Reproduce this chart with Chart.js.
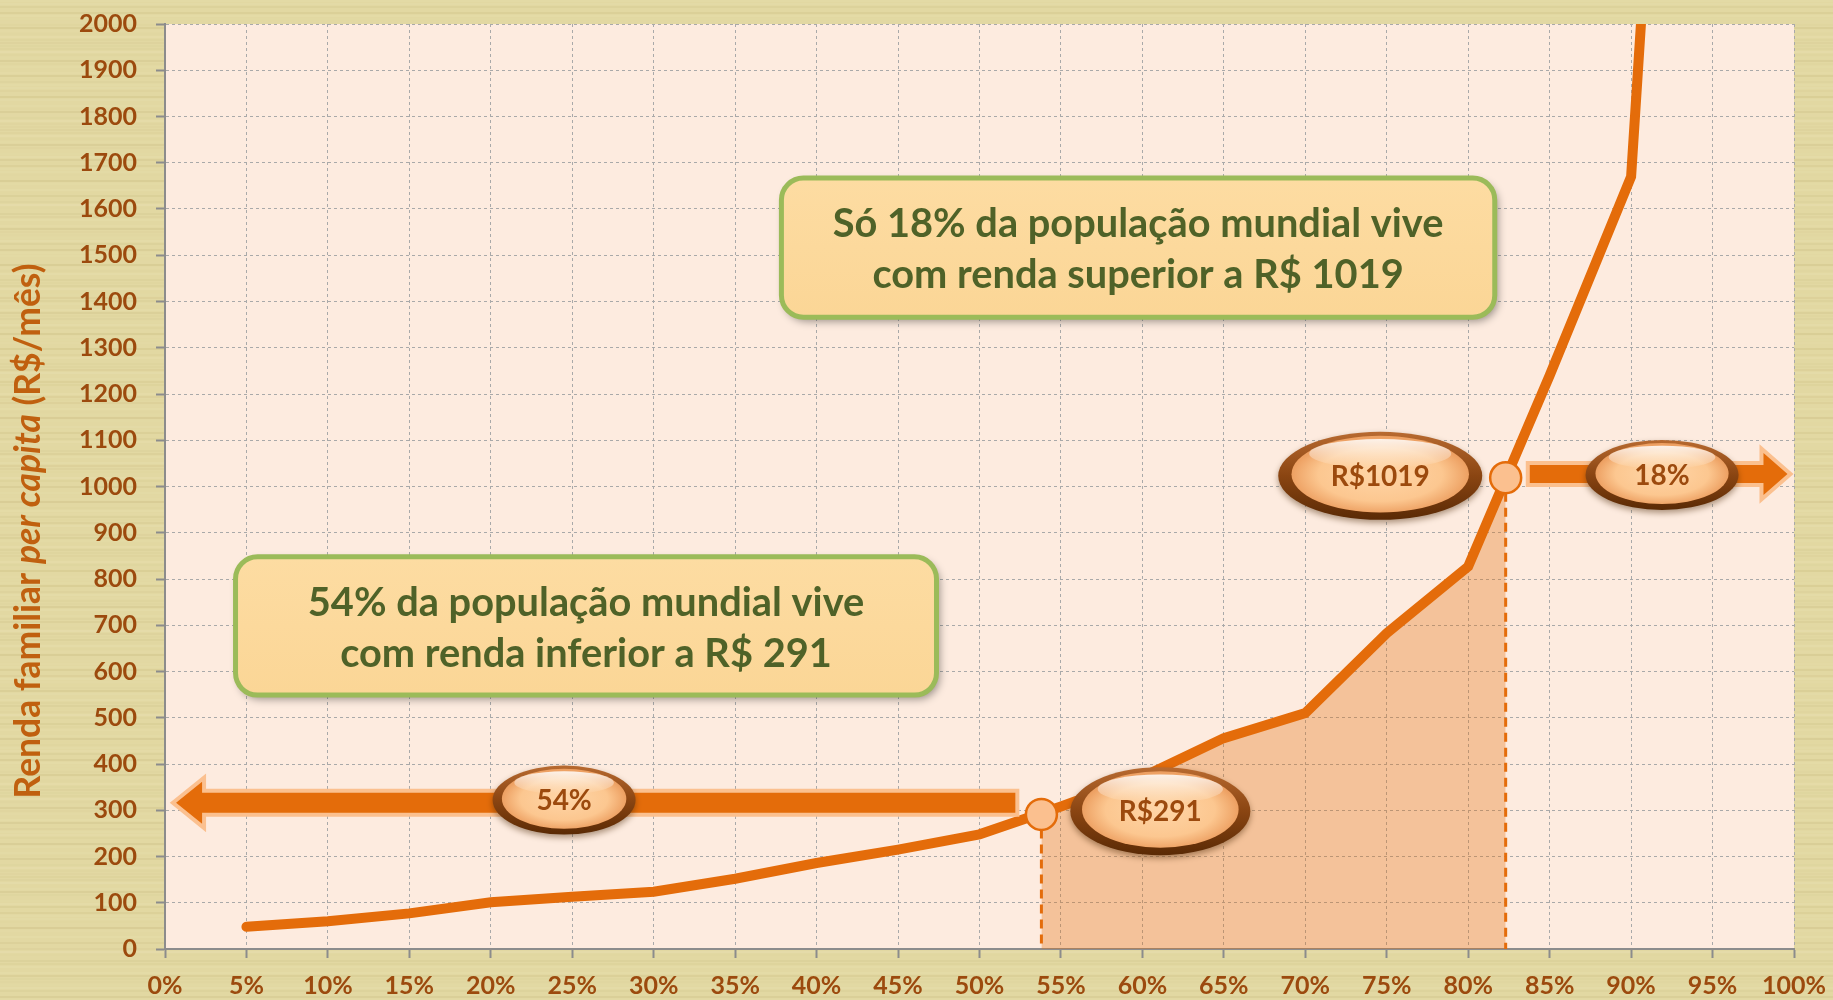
<!DOCTYPE html>
<html><head><meta charset="utf-8">
<script src="https://cdn.jsdelivr.net/npm/chart.js@4.4.0/dist/chart.umd.min.js"></script>
<style>html,body{margin:0;padding:0;background:#e4daa5;overflow:hidden}canvas{display:block}</style>
</head><body>
<canvas id="c" width="1833" height="1000"></canvas>
<script>
// ---------- DATA ----------
const percentiles = [5,10,15,20,25,30,35,40,45,50,55,60,65,70,75,80,85,90,95];
const income      = [48,60,77,101,113,124,152,186,215,248,308,372,456,510,683,827,1240,1670,4400];
const markerX = [53.8, 82.3];
const markerY = [291, 1019];
const ovalLabels = ['54%','R$291','R$1019','18%'];
const boxTexts = [
  ['Só 18% da população mundial vive','com renda superior a R$ 1019'],
  ['54% da população mundial vive','com renda inferior a R$ 291']
];
const yTitleParts = [['Renda familiar ','normal'],['per capita','italic'],[' (R$/mês)','normal']];

// ---------- ANNOTATION LAYOUT (data units + pixel sizes) ----------
const ovalLayout = [
  {x:24.5, y:322, w:143, h:69},
  {x:61.1, y:298, w:180, h:88},
  {x:74.6, y:1023, w:204, h:88},
  {x:91.9, y:1025, w:153, h:70}
];
const boxLayout = [
  {x1:37.84, x2:81.63, y1:1667, y2:1366},
  {x1:4.33, x2:47.36, y1:848, y2:549}
];
const arrowLayout = [
  {tip:0.68, end:52.2, y:316, dir:-1, head:26, headHalf:21, bodyHalf:10},
  {tip:99.6, end:83.78, y:1027, dir:1, head:24, headHalf:21, bodyHalf:9}
];

const C = {bg:'#e2d8a2', plot:'#fdebdf', line:'#e46c0a', tick:'#9c4a0e', title:'#c0600f',
           grid:'#a9a9a9', axis:'#8c8c8c', pale:'#fbc08f', boxFill:'#fcd99b', boxLine:'#9bbb59', boxText:'#4f6228'};
const FONT = 'Lato, "Open Sans", sans-serif';

const lineData = percentiles.map((p,i)=>({x:p, y:income[i]}));
const bandData = [{x:markerX[0], y:markerY[0]}]
  .concat(lineData.filter(d=>d.x>markerX[0] && d.x<markerX[1]))
  .concat([{x:markerX[1], y:markerY[1]}]);

function px(ch,v){return ch.scales.x.getPixelForValue(v);}
function py(ch,v){return ch.scales.y.getPixelForValue(v);}

const bgPlugin = {
  id:'bg',
  beforeDraw(ch){
    const {ctx, chartArea:a, width, height} = ch;
    ctx.save();
    ctx.fillStyle = C.bg; ctx.fillRect(0,0,width,height);
    for (let y=0; y<height; y+=3){
      const s = Math.sin(y*0.9)+Math.sin(y*0.37+1.3);
      ctx.fillStyle = s>0 ? 'rgba(255,250,220,'+(0.06*s)+')' : 'rgba(150,130,60,'+(-0.06*s)+')';
      ctx.fillRect(0,y,width,2);
    }
    ctx.fillStyle = C.plot; ctx.fillRect(a.left,a.top,a.right-a.left,a.bottom-a.top);
    ctx.restore();
  }
};

function gem(ctx,cx,cy,w,h,text){
  const rx=w/2, ry=h/2;
  ctx.save();
  ctx.shadowColor='rgba(70,35,0,0.45)'; ctx.shadowBlur=6; ctx.shadowOffsetY=3;
  let g = ctx.createLinearGradient(0,cy-ry,0,cy+ry);
  g.addColorStop(0,'#b86a30'); g.addColorStop(0.5,'#8a4512'); g.addColorStop(1,'#5a2a05');
  ctx.fillStyle=g;
  ctx.beginPath(); ctx.ellipse(cx,cy,rx,ry,0,0,Math.PI*2); ctx.fill();
  ctx.restore();
  ctx.save();
  ctx.translate(cx,cy); ctx.scale(1,ry/rx);
  const rim = Math.max(4,h*0.065)*rx/ry;
  const ir = rx - rim;
  const rg = ctx.createRadialGradient(0,-rx*0.1,0,0,0,ir);
  rg.addColorStop(0,'#ffd6a8'); rg.addColorStop(0.7,'#fcc790'); rg.addColorStop(1,'#eda062');
  ctx.fillStyle=rg;
  ctx.beginPath(); ctx.ellipse(0,-rim*0.3,ir,ir,0,0,Math.PI*2); ctx.fill();
  const hg = ctx.createLinearGradient(0,-ir,0,-ir*0.2);
  hg.addColorStop(0,'rgba(255,255,255,0.9)'); hg.addColorStop(1,'rgba(255,255,255,0)');
  ctx.fillStyle=hg;
  ctx.beginPath(); ctx.ellipse(0,-ir*0.58,ir*0.8,ir*0.38,0,0,Math.PI*2); ctx.fill();
  ctx.restore();
  ctx.save();
  ctx.fillStyle=C.tick; ctx.font='bold 28px '+FONT; ctx.textAlign='center'; ctx.textBaseline='middle';
  ctx.fillText(text,cx,cy+1);
  ctx.restore();
}

function arrow(ctx, ch, a){
  const y = py(ch,a.y), xt = px(ch,a.tip), xe = px(ch,a.end);
  const xh = xt - a.dir*a.head;
  ctx.save();
  ctx.beginPath();
  ctx.moveTo(xt,y);
  ctx.lineTo(xh,y-a.headHalf); ctx.lineTo(xh,y-a.bodyHalf);
  ctx.lineTo(xe,y-a.bodyHalf); ctx.lineTo(xe,y+a.bodyHalf);
  ctx.lineTo(xh,y+a.bodyHalf); ctx.lineTo(xh,y+a.headHalf);
  ctx.closePath();
  ctx.lineJoin='miter'; ctx.lineWidth=8; ctx.strokeStyle=C.pale; ctx.stroke();
  ctx.fillStyle=C.line; ctx.fill();
  ctx.restore();
}

function callout(ctx, ch, b, lines, size){
  const x1=px(ch,b.x1), x2=px(ch,b.x2), y1=py(ch,b.y1), y2=py(ch,b.y2);
  ctx.save();
  ctx.shadowColor='rgba(0,0,0,0.4)'; ctx.shadowBlur=8; ctx.shadowOffsetX=3; ctx.shadowOffsetY=4;
  ctx.beginPath(); ctx.roundRect(x1,y1,x2-x1,y2-y1,22);
  const g = ctx.createLinearGradient(0,y1,0,y2);
  g.addColorStop(0,'#fddca2'); g.addColorStop(1,'#fbd696');
  ctx.fillStyle=g; ctx.fill();
  ctx.shadowColor='transparent';
  ctx.lineWidth=5; ctx.strokeStyle=C.boxLine; ctx.stroke();
  ctx.fillStyle=C.boxText; ctx.font='bold '+size+'px '+FONT;
  ctx.textAlign='center'; ctx.textBaseline='alphabetic';
  const cx=(x1+x2)/2;
  ctx.fillText(lines[0],cx,y1+59);
  ctx.fillText(lines[1],cx,y1+110);
  ctx.restore();
}

const annoPlugin = {
  id:'anno',
  afterDatasetsDraw(ch){
    const ctx=ch.ctx, a=ch.chartArea;
    ctx.save();
    ctx.strokeStyle=C.line; ctx.lineWidth=3; ctx.setLineDash([9,6]);
    markerX.forEach((mx,i)=>{
      ctx.beginPath(); ctx.moveTo(px(ch,mx),py(ch,markerY[i])); ctx.lineTo(px(ch,mx),a.bottom); ctx.stroke();
    });
    ctx.restore();
    arrowLayout.forEach(ar=>arrow(ctx,ch,ar));
    markerX.forEach((mx,i)=>{
      ctx.save();
      ctx.beginPath(); ctx.arc(px(ch,mx),py(ch,markerY[i]),15.5,0,Math.PI*2);
      ctx.fillStyle=C.pale; ctx.fill();
      ctx.lineWidth=2.5; ctx.strokeStyle=C.line; ctx.stroke();
      ctx.restore();
    });
    ovalLayout.forEach((o,i)=>gem(ctx,px(ch,o.x),py(ch,o.y),o.w,o.h,ovalLabels[i]));
    ctx.save(); ctx.font='bold 40px '+FONT;
    const wm = ctx.measureText(boxTexts[0][0]).width; ctx.restore();
    const size = Math.min(42, 40*611/wm);
    boxLayout.forEach((b,i)=>callout(ctx,ch,b,boxTexts[i],size));
  },
  afterDraw(ch){
    const ctx=ch.ctx;
    ctx.save();
    const base=32;
    let total=0;
    yTitleParts.forEach(p=>{ctx.font=(p[1]==='italic'?'italic ':'')+'bold '+base+'px '+FONT; total+=ctx.measureText(p[0]).width;});
    const k = 535/total;
    ctx.translate(40,531); ctx.rotate(-Math.PI/2);
    ctx.fillStyle=C.title; ctx.textBaseline='alphabetic'; ctx.textAlign='left';
    let x=-total*k/2;
    yTitleParts.forEach(p=>{
      ctx.font=(p[1]==='italic'?'italic ':'')+'bold '+(base*k).toFixed(2)+'px '+FONT;
      ctx.fillText(p[0],x,0); x+=ctx.measureText(p[0]).width;
    });
    ctx.restore();
  }
};

const tickFont = {family:FONT, weight:'bold', size:25};
new Chart(document.getElementById('c'), {
  type:'line',
  data:{datasets:[
    {data:lineData, borderColor:C.line, borderWidth:10, pointRadius:0, fill:false, tension:0,
     borderCapStyle:'round', borderJoinStyle:'miter', clip:0, order:1},
    {data:bandData, borderWidth:0, borderColor:'rgba(0,0,0,0)', backgroundColor:'rgba(228,108,10,0.32)',
     fill:'origin', pointRadius:0, tension:0, order:2}
  ]},
  options:{
    responsive:false, animation:false, devicePixelRatio:1, events:[],
    layout:{padding:{top:24,right:39,left:0,bottom:0}},
    plugins:{legend:{display:false}, tooltip:{enabled:false}},
    scales:{
      x:{type:'linear', min:0, max:100,
         afterFit(s){s.height=51; s.paddingLeft=0; s.paddingRight=0;},
         ticks:{stepSize:5, callback:v=>v+'%', color:C.tick, font:tickFont, padding:13, maxRotation:0, autoSkip:false},
         grid:{color:C.grid, lineWidth:1, tickLength:9, tickColor:C.axis, tickWidth:2},
         border:{color:C.axis, width:2, dash:[3,3]}},
      y:{type:'linear', min:0, max:2000,
         afterFit(s){s.width=165; s.paddingTop=0; s.paddingBottom=0;},
         ticks:{stepSize:100, callback:v=>String(v), color:C.tick, font:tickFont, padding:19},
         grid:{color:C.grid, lineWidth:1, tickLength:9, tickColor:C.axis, tickWidth:2},
         border:{color:C.axis, width:2, dash:[3,3]}}
    }
  },
  plugins:[bgPlugin, annoPlugin]
});
</script>
</body></html>
